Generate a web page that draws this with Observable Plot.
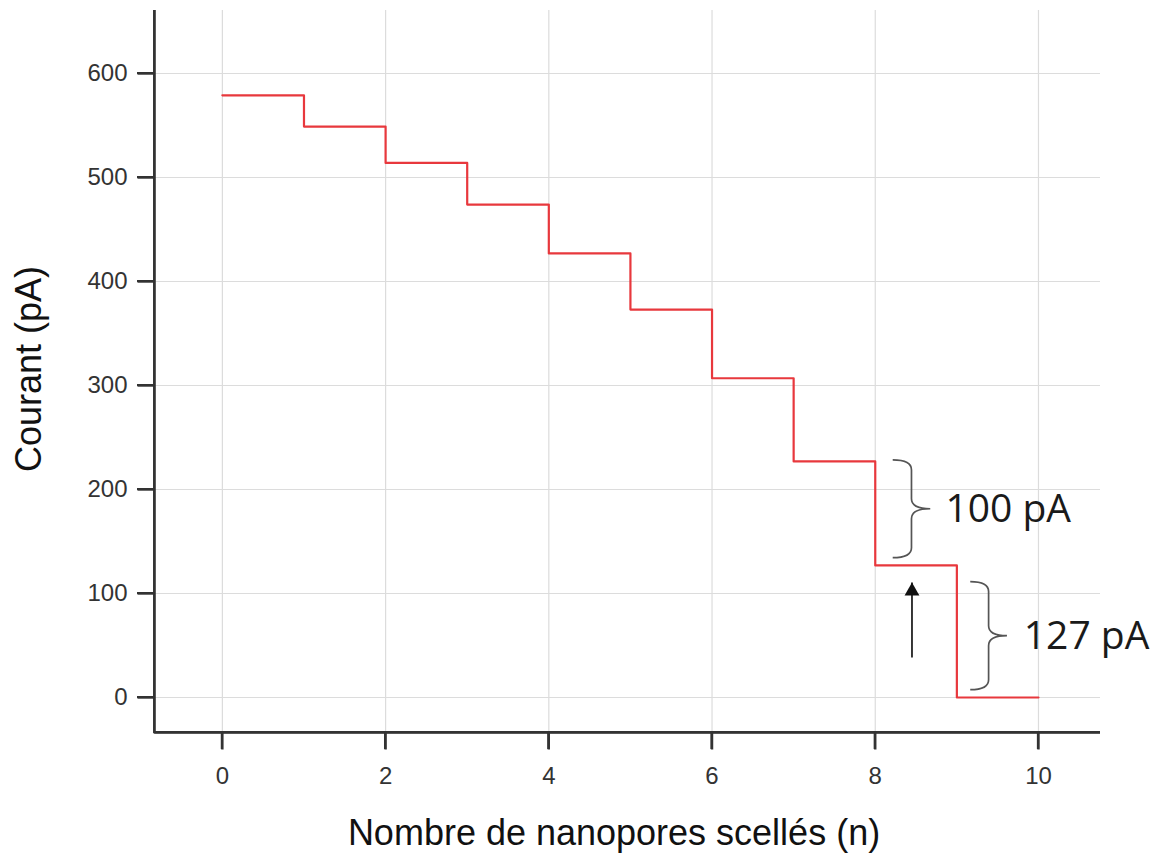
<!DOCTYPE html>
<html>
<head>
<meta charset="utf-8">
<script src="https://cdn.jsdelivr.net/npm/d3@7"></script>
<script src="https://cdn.jsdelivr.net/npm/@observablehq/plot@0.6"></script>
<style>
  html, body { margin: 0; padding: 0; background: #fff; }
</style>
</head>
<body>
<div id="chart"></div>
<script>
// ---- data ----
const nSealed   = [0, 1, 2, 3, 4, 5, 6, 7, 8, 9, 10];
const currentPA = [579, 549, 514, 474, 427, 373, 307, 227, 127, 0, 0];

const xTicks = [0, 2, 4, 6, 8, 10];
const yTicks = [0, 100, 200, 300, 400, 500, 600];
const xDomain = [-1.04, 10.76];
const yDomain = [-50, 660.6];
const xAxisAt = -0.83;   // x value where the y axis line sits
const yAxisAt = -33.7;   // y value where the x axis line sits

const xTitle = "Nombre de nanopores scellés (n)";
const yTitle = "Courant (pA)";

// annotations (data units)
const braceLeft   = [8.22, 9.17];
const braceTip    = [8.68, 9.62];
const braceTop    = [228, 111];
const braceBottom = [134, 7];
const braceLabels = ["100 pA", "127 pA"];
const labelX      = [8.86, 9.82];
const labelY      = [181, 59];

const arrowX    = [8.45];
const arrowTail = [38];
const arrowHead = [110];

const steps = nSealed.map((n, i) => ({n, current: currentPA[i]}));
const labels = braceLabels.map((t, i) => ({t, x: labelX[i], y: labelY[i]}));

const axisColor = "#333";
const gridColor = "#dcdcdc";

// custom render: curly braces drawn through the scales
const braces = (index, scales) => {
  const g = d3.create("svg:g").attr("fill", "none").attr("stroke", "#555").attr("stroke-width", 1.7);
  braceLeft.forEach((_, i) => {
    const x0 = scales.x(braceLeft[i]), x1 = scales.x(braceTip[i]);
    const yt = scales.y(braceTop[i]), yb = scales.y(braceBottom[i]);
    const ym = (yt + yb) / 2, xm = (x0 + x1) / 2, r = 10;
    g.append("path").attr("d",
      `M${x0},${yt}Q${xm},${yt} ${xm},${yt + r}L${xm},${ym - r}Q${xm},${ym} ${x1},${ym}` +
      `Q${xm},${ym} ${xm},${ym + r}L${xm},${yb - r}Q${xm},${yb} ${x0},${yb}`);
  });
  return g.node();
};

// custom render: both axis lines with their ticks as one comb-shaped path
const axesComb = (index, scales) => {
  const ax = scales.x(xAxisAt), ay = scales.y(yAxisAt);
  const left = scales.x(xDomain[0]), bottom = scales.y(yDomain[0]);
  const top = scales.y(yDomain[1]), right = scales.x(xDomain[1]);
  let d = `M${ax},${top}V${ay}H${right}`;
  yTicks.forEach(v => { const y = scales.y(v); d += `M${left},${y}H${ax}`; });
  xTicks.forEach(v => { const x = scales.x(v); d += `M${x},${ay}V${bottom}`; });
  return d3.create("svg:path").attr("d", d).attr("fill", "none")
    .attr("stroke", axisColor).attr("stroke-width", 2.2).node();
};

const chart = Plot.plot({
  width: 1161,
  height: 854,
  marginLeft: 137,
  marginRight: 61,
  marginTop: 10,
  marginBottom: 105,
  style: {fontFamily: "'Liberation Sans', Arial, sans-serif", background: "#fff", color: "#333"},
  x: {domain: xDomain, axis: null},
  y: {domain: yDomain, axis: null},
  marks: [
    // grid
    Plot.ruleX(xTicks, {x: d => d, y1: yAxisAt, y2: yDomain[1], stroke: gridColor, strokeWidth: 1.2}),
    Plot.ruleY(yTicks, {y: d => d, x1: xAxisAt, x2: xDomain[1], stroke: gridColor, strokeWidth: 1.2}),
    // axis lines + ticks
    Plot.ruleX([xAxisAt], {x: d => d, y1: yAxisAt, y2: yDomain[1], stroke: axisColor, strokeWidth: 2.2}),
    Plot.ruleY([yAxisAt], {y: d => d, x1: xAxisAt, x2: xDomain[1], stroke: axisColor, strokeWidth: 2.2}),
    axesComb,
    Plot.link(yTicks, {x1: xDomain[0], x2: xAxisAt, y1: d => d, y2: d => d, stroke: axisColor, strokeWidth: 2.4}),
    Plot.link(xTicks, {x1: d => d, x2: d => d, y1: yDomain[0], y2: yAxisAt, stroke: axisColor, strokeWidth: 2.4}),
    // tick labels
    Plot.text(yTicks, {x: xDomain[0], y: d => d, text: d => String(d), dx: -10, textAnchor: "end", lineAnchor: "middle", fontSize: 24, fill: "#333"}),
    Plot.text(xTicks, {x: d => d, y: yDomain[0], text: d => String(d), dy: 17, textAnchor: "middle", lineAnchor: "top", fontSize: 24, fill: "#333"}),
    // data
    Plot.line(steps, {x: "n", y: "current", curve: "step-after", stroke: "#e8383d", strokeWidth: 2.2}),
    // annotations
    braces,
    Plot.text(labels, {x: "x", y: "y", text: "t", textAnchor: "start", lineAnchor: "middle", fontSize: 39, fontFamily: "'Open Sans', sans-serif", fill: "#1a1a1a"}),
    Plot.ruleX(arrowX, {x: d => d, y1: (d, i) => arrowTail[i], y2: (d, i) => arrowHead[i], stroke: "#222", strokeWidth: 1.8}),
    Plot.dot(arrowX, {x: d => d, y: (d, i) => arrowHead[i], symbol: "triangle", r: 5.5, fill: "#111", stroke: null, dy: 8}),
    // titles
    Plot.text([yTitle], {frameAnchor: "left", rotate: -90, textAnchor: "middle", lineAnchor: "middle", dx: -108, dy: -11, fontSize: 36, fill: "#111"}),
    Plot.text([xTitle], {frameAnchor: "bottom", textAnchor: "middle", lineAnchor: "middle", dx: -5, dy: 84, fontSize: 36, fill: "#111"})
  ]
});
document.getElementById("chart").append(chart);
</script>
</body>
</html>
